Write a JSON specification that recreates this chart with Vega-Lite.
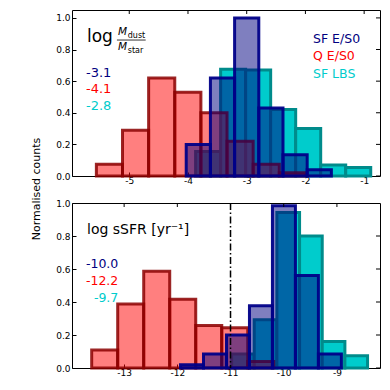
{
  "$schema": "https://vega.github.io/schema/vega-lite/v6.json",
  "padding": {"left": 29, "top": 9, "right": 5, "bottom": 5},
  "bounds": "flush",
  "spacing": 27,
  "resolve": {"scale": {"x": "independent", "y": "independent"}},
  "config": {
    "font": "DejaVu Sans",
    "view": {"stroke": "#000", "strokeWidth": 1},
    "axis": {"grid": false, "domain": false, "tickSize": -4, "tickColor": "#000", "tickWidth": 1, "labelFontSize": 9, "labelColor": "#000", "labelOverlap": false, "labelFlush": false, "titleFontWeight": "normal", "titleFontSize": 11, "titleColor": "#000"},
    "axisX": {"labelPadding": 4},
    "axisY": {"labelPadding": 6}
  },
  "datasets": {
    "bars": [
      {"p": "d", "s": "SF LBS", "a": -3.87, "b": -3.444, "h": 0.155},
      {"p": "d", "s": "SF LBS", "a": -3.444, "b": -3.018, "h": 0.675},
      {"p": "d", "s": "SF LBS", "a": -3.018, "b": -2.592, "h": 0.67},
      {"p": "d", "s": "SF LBS", "a": -2.592, "b": -2.166, "h": 0.42},
      {"p": "d", "s": "SF LBS", "a": -2.166, "b": -1.74, "h": 0.3},
      {"p": "d", "s": "SF LBS", "a": -1.74, "b": -1.314, "h": 0.07},
      {"p": "d", "s": "SF LBS", "a": -1.314, "b": -0.888, "h": 0.053},
      {"p": "d", "s": "Q E/S0", "a": -5.56, "b": -5.115, "h": 0.075},
      {"p": "d", "s": "Q E/S0", "a": -5.115, "b": -4.67, "h": 0.29},
      {"p": "d", "s": "Q E/S0", "a": -4.67, "b": -4.225, "h": 0.62},
      {"p": "d", "s": "Q E/S0", "a": -4.225, "b": -3.78, "h": 0.53},
      {"p": "d", "s": "Q E/S0", "a": -3.78, "b": -3.335, "h": 0.4},
      {"p": "d", "s": "Q E/S0", "a": -3.335, "b": -2.89, "h": 0.22},
      {"p": "d", "s": "Q E/S0", "a": -2.89, "b": -2.445, "h": 0.075},
      {"p": "d", "s": "Q E/S0", "a": -2.445, "b": -2.0, "h": 0.02},
      {"p": "d", "s": "SF E/S0", "a": -4.03, "b": -3.618, "h": 0.2},
      {"p": "d", "s": "SF E/S0", "a": -3.618, "b": -3.206, "h": 0.62},
      {"p": "d", "s": "SF E/S0", "a": -3.206, "b": -2.794, "h": 1.0},
      {"p": "d", "s": "SF E/S0", "a": -2.794, "b": -2.382, "h": 0.43},
      {"p": "d", "s": "SF E/S0", "a": -2.382, "b": -1.97, "h": 0.135},
      {"p": "d", "s": "SF E/S0", "a": -1.97, "b": -1.558, "h": 0.04},
      {"p": "s", "s": "SF LBS", "a": -10.98, "b": -10.554, "h": 0.085},
      {"p": "s", "s": "SF LBS", "a": -10.554, "b": -10.128, "h": 0.293},
      {"p": "s", "s": "SF LBS", "a": -10.128, "b": -9.702, "h": 0.943},
      {"p": "s", "s": "SF LBS", "a": -9.702, "b": -9.276, "h": 0.8},
      {"p": "s", "s": "SF LBS", "a": -9.276, "b": -8.85, "h": 0.16},
      {"p": "s", "s": "SF LBS", "a": -8.85, "b": -8.424, "h": 0.075},
      {"p": "s", "s": "Q E/S0", "a": -13.61, "b": -13.121, "h": 0.109},
      {"p": "s", "s": "Q E/S0", "a": -13.121, "b": -12.632, "h": 0.388},
      {"p": "s", "s": "Q E/S0", "a": -12.632, "b": -12.143, "h": 0.586},
      {"p": "s", "s": "Q E/S0", "a": -12.143, "b": -11.654, "h": 0.416},
      {"p": "s", "s": "Q E/S0", "a": -11.654, "b": -11.165, "h": 0.257},
      {"p": "s", "s": "Q E/S0", "a": -11.165, "b": -10.676, "h": 0.244},
      {"p": "s", "s": "Q E/S0", "a": -10.676, "b": -10.187, "h": 0.04},
      {"p": "s", "s": "SF E/S0", "a": -11.94, "b": -11.508, "h": 0.02},
      {"p": "s", "s": "SF E/S0", "a": -11.508, "b": -11.076, "h": 0.085},
      {"p": "s", "s": "SF E/S0", "a": -11.076, "b": -10.644, "h": 0.2},
      {"p": "s", "s": "SF E/S0", "a": -10.644, "b": -10.212, "h": 0.378},
      {"p": "s", "s": "SF E/S0", "a": -10.212, "b": -9.78, "h": 0.984},
      {"p": "s", "s": "SF E/S0", "a": -9.78, "b": -9.348, "h": 0.56},
      {"p": "s", "s": "SF E/S0", "a": -9.348, "b": -8.916, "h": 0.085}
    ],
    "notes": [
      {"p": "d", "k": "big", "t": "log", "x": -5.72, "y": 0.848},
      {"p": "d", "k": "M", "t": "M", "x": -5.19, "y": 0.89},
      {"p": "d", "k": "M", "t": "M", "x": -5.19, "y": 0.795},
      {"p": "d", "k": "sub", "t": "dust", "x": -5.026, "y": 0.876},
      {"p": "d", "k": "sub", "t": "star", "x": -5.026, "y": 0.781},
      {"p": "d", "k": "val", "t": "-3.1", "s": "SF E/S0", "x": -5.737, "y": 0.653},
      {"p": "d", "k": "val", "t": "-4.1", "s": "Q E/S0", "x": -5.737, "y": 0.548},
      {"p": "d", "k": "val", "t": "-2.8", "s": "SF LBS", "x": -5.737, "y": 0.443},
      {"p": "d", "k": "leg", "t": "SF E/S0", "s": "SF E/S0", "x": -1.871, "y": 0.865},
      {"p": "d", "k": "leg", "t": "Q E/S0", "s": "Q E/S0", "x": -1.871, "y": 0.759},
      {"p": "d", "k": "leg", "t": "SF LBS", "s": "SF LBS", "x": -1.871, "y": 0.648},
      {"p": "s", "k": "big", "t": "log sSFR [yr⁻¹]", "x": -13.698, "y": 0.812},
      {"p": "s", "k": "val", "t": "-10.0", "s": "SF E/S0", "x": -13.11, "y": 0.63},
      {"p": "s", "k": "val", "t": "-12.2", "s": "Q E/S0", "x": -13.11, "y": 0.527},
      {"p": "s", "k": "val", "t": "-9.7", "s": "SF LBS", "x": -13.11, "y": 0.424}
    ],
    "frac": [{"x": -5.21, "x2": -4.72, "y": 0.86}],
    "cut": [{"x": -11}],
    "xticks": [
      {"p": "d", "v": -5}, {"p": "d", "v": -4}, {"p": "d", "v": -3}, {"p": "d", "v": -2}, {"p": "d", "v": -1},
      {"p": "s", "v": -13}, {"p": "s", "v": -12}, {"p": "s", "v": -11}, {"p": "s", "v": -10}, {"p": "s", "v": -9}
    ],
    "yticks": [
      {"v": 0}, {"v": 0.2}, {"v": 0.4}, {"v": 0.6}, {"v": 0.8}, {"v": 1.0}
    ]
  },
  "vconcat": [
    {
      "width": 308,
      "height": 166,
      "layer": [
        {
          "data": {"name": "bars"},
          "transform": [{"filter": "datum.p === 'd' && datum.s === 'SF LBS'"}],
          "mark": {"type": "bar", "fill": "#00cccc", "fillOpacity": 1, "stroke": "#008b8b", "strokeWidth": 3},
          "encoding": {
            "x": {"field": "a", "type": "quantitative", "scale": {"domain": [-5.975, -0.73], "nice": false, "zero": false},
                  "axis": {"values": [-5, -4, -3, -2, -1], "tickCount": 10, "labelExpr": "'' + datum.value", "title": null, "labelOverlap": false}},
            "x2": {"field": "b"},
            "y": {"field": "h", "type": "quantitative", "scale": {"domain": [0, 1.05], "nice": false},
                  "axis": {"values": [0, 0.2, 0.4, 0.6, 0.8, 1.0], "tickCount": 10, "format": ".1f", "labelOverlap": false, "title": "Normalised counts",
                           "titleX": -36, "titleY": 178.5, "titleAngle": -90, "titleAlign": "center", "titleBaseline": "middle"}},
            "y2": {"datum": 0}
          }
        },
        {
          "data": {"name": "bars"},
          "transform": [{"filter": "datum.p === 'd' && datum.s === 'Q E/S0'"}],
          "mark": {"type": "bar", "fill": "#ff0000", "fillOpacity": 0.5, "stroke": "#8b0000", "strokeOpacity": 0.85, "strokeWidth": 3},
          "encoding": {
            "x": {"field": "a", "type": "quantitative"},
            "x2": {"field": "b"},
            "y": {"field": "h", "type": "quantitative"},
            "y2": {"datum": 0}
          }
        },
        {
          "data": {"name": "bars"},
          "transform": [{"filter": "datum.p === 'd' && datum.s === 'SF E/S0'"}],
          "mark": {"type": "bar", "fill": "#000080", "fillOpacity": 0.5, "stroke": "#000088", "strokeOpacity": 0.95, "strokeWidth": 3},
          "encoding": {
            "x": {"field": "a", "type": "quantitative"},
            "x2": {"field": "b"},
            "y": {"field": "h", "type": "quantitative"},
            "y2": {"datum": 0}
          }
        },
        {
          "data": {"name": "xticks"},
          "transform": [{"filter": "datum.p === 'd'"}],
          "mark": {"type": "tick", "orient": "vertical", "size": 8, "thickness": 1, "color": "#000", "opacity": 1, "clip": true},
          "encoding": {
            "x": {"field": "v", "type": "quantitative"},
            "y": {"datum": 1.05}
          }
        },
        {
          "data": {"name": "yticks"},
          "mark": {"type": "tick", "orient": "horizontal", "size": 8, "thickness": 1, "color": "#000", "opacity": 1, "clip": true},
          "encoding": {
            "y": {"field": "v", "type": "quantitative"},
            "x": {"datum": -0.73}
          }
        },
        {
          "data": {"name": "notes"},
          "transform": [{"filter": "datum.p === 'd' && datum.k === 'big'"}],
          "mark": {"type": "text", "fontSize": 17, "align": "left", "baseline": "alphabetic", "color": "#000"},
          "encoding": {
            "x": {"field": "x", "type": "quantitative"},
            "y": {"field": "y", "type": "quantitative"},
            "text": {"field": "t"}
          }
        },
        {
          "data": {"name": "notes"},
          "transform": [{"filter": "datum.p === 'd' && datum.k === 'M'"}],
          "mark": {"type": "text", "fontSize": 10.5, "fontStyle": "italic", "align": "left", "baseline": "alphabetic", "color": "#000"},
          "encoding": {
            "x": {"field": "x", "type": "quantitative"},
            "y": {"field": "y", "type": "quantitative"},
            "text": {"field": "t"}
          }
        },
        {
          "data": {"name": "notes"},
          "transform": [{"filter": "datum.p === 'd' && datum.k === 'sub'"}],
          "mark": {"type": "text", "fontSize": 8, "align": "left", "baseline": "alphabetic", "color": "#000"},
          "encoding": {
            "x": {"field": "x", "type": "quantitative"},
            "y": {"field": "y", "type": "quantitative"},
            "text": {"field": "t"}
          }
        },
        {
          "data": {"name": "frac"},
          "mark": {"type": "rule", "color": "#000", "strokeWidth": 0.8},
          "encoding": {
            "x": {"field": "x", "type": "quantitative"},
            "x2": {"field": "x2"},
            "y": {"field": "y", "type": "quantitative"}
          }
        },
        {
          "data": {"name": "notes"},
          "transform": [{"filter": "datum.p === 'd' && datum.k === 'val'"}],
          "mark": {"type": "text", "fontSize": 13, "align": "left", "baseline": "middle"},
          "encoding": {
            "x": {"field": "x", "type": "quantitative"},
            "y": {"field": "y", "type": "quantitative"},
            "text": {"field": "t"},
            "color": {"field": "s", "type": "nominal", "scale": {"domain": ["SF E/S0", "Q E/S0", "SF LBS"], "range": ["#000080", "#ff0000", "#00cccc"]}, "legend": null}
          }
        },
        {
          "data": {"name": "notes"},
          "transform": [{"filter": "datum.p === 'd' && datum.k === 'leg'"}],
          "mark": {"type": "text", "fontSize": 12.5, "align": "left", "baseline": "middle"},
          "encoding": {
            "x": {"field": "x", "type": "quantitative"},
            "y": {"field": "y", "type": "quantitative"},
            "text": {"field": "t"},
            "color": {"field": "s", "type": "nominal", "scale": {"domain": ["SF E/S0", "Q E/S0", "SF LBS"], "range": ["#000080", "#ff0000", "#00cccc"]}, "legend": null}
          }
        }
      ]
    },
    {
      "width": 308,
      "height": 165,
      "layer": [
        {
          "data": {"name": "bars"},
          "transform": [{"filter": "datum.p === 's' && datum.s === 'SF LBS'"}],
          "mark": {"type": "bar", "fill": "#00cccc", "fillOpacity": 1, "stroke": "#008b8b", "strokeWidth": 3},
          "encoding": {
            "x": {"field": "a", "type": "quantitative", "scale": {"domain": [-13.98, -8.19], "nice": false, "zero": false},
                  "axis": {"values": [-13, -12, -11, -10, -9], "tickCount": 10, "labelExpr": "'' + datum.value", "title": null, "labelOverlap": false}},
            "x2": {"field": "b"},
            "y": {"field": "h", "type": "quantitative", "scale": {"domain": [0, 1.0], "nice": false},
                  "axis": {"values": [0, 0.2, 0.4, 0.6, 0.8, 1.0], "tickCount": 10, "format": ".1f", "labelOverlap": false, "title": null}},
            "y2": {"datum": 0}
          }
        },
        {
          "data": {"name": "bars"},
          "transform": [{"filter": "datum.p === 's' && datum.s === 'Q E/S0'"}],
          "mark": {"type": "bar", "fill": "#ff0000", "fillOpacity": 0.5, "stroke": "#8b0000", "strokeOpacity": 0.85, "strokeWidth": 3},
          "encoding": {
            "x": {"field": "a", "type": "quantitative"},
            "x2": {"field": "b"},
            "y": {"field": "h", "type": "quantitative"},
            "y2": {"datum": 0}
          }
        },
        {
          "data": {"name": "bars"},
          "transform": [{"filter": "datum.p === 's' && datum.s === 'SF E/S0'"}],
          "mark": {"type": "bar", "fill": "#000080", "fillOpacity": 0.5, "stroke": "#000088", "strokeOpacity": 0.95, "strokeWidth": 3},
          "encoding": {
            "x": {"field": "a", "type": "quantitative"},
            "x2": {"field": "b"},
            "y": {"field": "h", "type": "quantitative"},
            "y2": {"datum": 0}
          }
        },
        {
          "data": {"name": "xticks"},
          "transform": [{"filter": "datum.p === 's'"}],
          "mark": {"type": "tick", "orient": "vertical", "size": 8, "thickness": 1, "color": "#000", "opacity": 1, "clip": true},
          "encoding": {
            "x": {"field": "v", "type": "quantitative"},
            "y": {"datum": 1.0}
          }
        },
        {
          "data": {"name": "yticks"},
          "mark": {"type": "tick", "orient": "horizontal", "size": 8, "thickness": 1, "color": "#000", "opacity": 1, "clip": true},
          "encoding": {
            "y": {"field": "v", "type": "quantitative"},
            "x": {"datum": -8.19}
          }
        },
        {
          "data": {"name": "cut"},
          "mark": {"type": "rule", "color": "#000", "strokeWidth": 1.5, "strokeDash": [7, 2.5, 1.5, 2.5]},
          "encoding": {
            "x": {"field": "x", "type": "quantitative"}
          }
        },
        {
          "data": {"name": "notes"},
          "transform": [{"filter": "datum.p === 's' && datum.k === 'big'"}],
          "mark": {"type": "text", "fontSize": 14, "align": "left", "baseline": "alphabetic", "color": "#000"},
          "encoding": {
            "x": {"field": "x", "type": "quantitative"},
            "y": {"field": "y", "type": "quantitative"},
            "text": {"field": "t"}
          }
        },
        {
          "data": {"name": "notes"},
          "transform": [{"filter": "datum.p === 's' && datum.k === 'val'"}],
          "mark": {"type": "text", "fontSize": 12.5, "align": "right", "baseline": "middle"},
          "encoding": {
            "x": {"field": "x", "type": "quantitative"},
            "y": {"field": "y", "type": "quantitative"},
            "text": {"field": "t"},
            "color": {"field": "s", "type": "nominal", "scale": {"domain": ["SF E/S0", "Q E/S0", "SF LBS"], "range": ["#000080", "#ff0000", "#00cccc"]}, "legend": null}
          }
        }
      ]
    }
  ]
}
